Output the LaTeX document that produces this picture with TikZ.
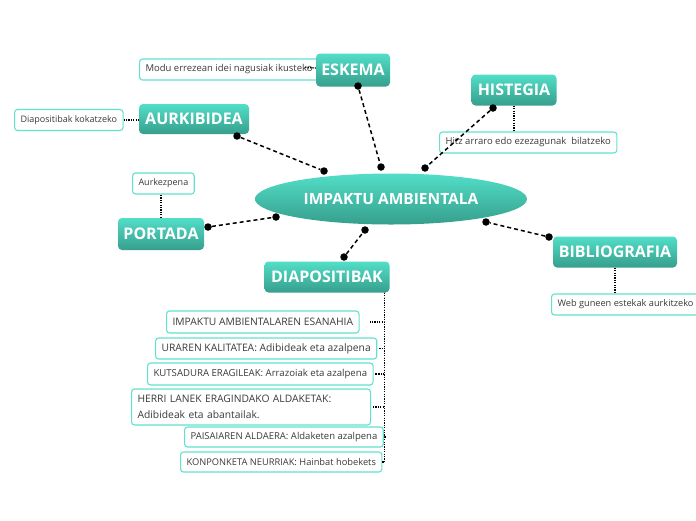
\documentclass[tikz,border=0pt]{standalone}
\usepackage{fontspec}
\setmainfont{Open Sans}
\usetikzlibrary{shapes.geometric}
\definecolor{tealtop}{HTML}{52DEC8}
\definecolor{tealbot}{HTML}{369F8C}
\definecolor{noteline}{HTML}{62E2CE}
\definecolor{notetext}{HTML}{3A3A3A}
\begin{document}
\begin{tikzpicture}[x=1pt,y=-1pt,
	topic/.style={ rounded corners=4pt, top color=tealtop, bottom color=tealbot, text=white, inner sep=0pt, font=\fontsize{16}{19}\selectfont\bfseries },
	hub/.style={ ellipse, top color=tealtop, bottom color=tealbot, text=white, inner sep=0pt, minimum width=272pt, minimum height=51pt, font=\fontsize{15.5}{18}\selectfont\bfseries },
	note/.style={ draw=noteline, line width=1.1pt, fill=white, rounded corners=3pt, text=notetext, anchor=west, inner xsep=6pt, inner ysep=0pt, minimum height=21pt, font=\fontsize{9.5}{11}\selectfont },
	item/.style={ note, align=left },
	dot/.style={ circle, fill=black, inner sep=0pt, minimum size=7.5pt },
	link/.style={ line width=1.5pt, dash pattern=on 4pt off 3pt },
	dotlink/.style={ line width=1.3pt, dash pattern=on 1.2pt off 1.2pt }
]
\useasboundingbox (0,0) rectangle (696,520);

% centre
\node at (391,199) (hub) [hub] {IMPAKTU AMBIENTALA};

% side notes
\node at (139,69.5) (modu) [note] {Modu errezean idei nagusiak ikusteko\hspace{2pt}};
\node at (14,120) (koka) [note, font=\fontsize{9}{11}\selectfont] {Diapositibak kokatzeko};
\node at (439,142.5) (hitz) [note] {Hitz arraro edo ezezagunak \ bilatzeko};
\node at (132,183.5) (aurk) [note, font=\fontsize{9}{11}\selectfont] {Aurkezpena};
\node at (551,304.5) (web) [note, font=\fontsize{9.2}{11}\selectfont] {Web guneen estekak aurkitzeko\hspace{8pt}};

% topics
\node at (353,70) (eskema) [topic, minimum width=74pt, minimum height=33pt] {ESKEMA};
\node at (194,119) (aurki) [topic, minimum width=110pt, minimum height=30pt] {AURKIBIDEA};
\node at (514,90) (histe) [topic, minimum width=85pt, minimum height=31pt] {HISTEGIA};
\node at (161,234) (portada) [topic, minimum width=86pt, minimum height=32pt] {PORTADA};
\node at (615,252) (biblio) [topic, minimum width=124pt, minimum height=31pt] {BIBLIOGRAFIA};
\node at (327,277) (diapo) [topic, minimum width=125pt, minimum height=31pt] {DIAPOSITIBAK};

% slides list
\foreach \n/\x/\y/\f/\h/\t in {
	i1/166/322/10.3/22/{IMPAKTU AMBIENTALAREN ESANAHIA},
	i2/155/348.5/10.3/21/{URAREN KALITATEA: Adibideak eta azalpena},
	i3/147/374/9.6/22/{KUTSADURA ERAGILEAK: Arrazoiak eta azalpena},
	i5/184/437/9.5/20/{PAISAIAREN ALDAERA: Aldaketen azalpena},
	i6/180/462/9.3/20/{KONPONKETA NEURRIAK: Hainbat hobekets}}
	\node at (\x,\y) (\n) [item, minimum height=\h pt, font=\fontsize{\f}{16}\selectfont] {\t};
\node at (131,407) (i4) [item, minimum height=36pt, text width=227pt, font=\fontsize{10.3}{16}\selectfont] {HERRI LANEK ERAGINDAKO ALDAKETAK:\\ Adibideak eta abantailak.};

\coordinate (trunk) at ([xshift=-5pt]diapo.south east);
\foreach \n/\s in {i1/9,i2/1,i3/1,i4/1,i5/1,i6/0}
	\draw[dotlink, shorten >=\s pt] (trunk) |- (\n.east);

% note links
\draw[dotlink] ([xshift=-14pt,yshift=2pt]modu.east) -- ([yshift=2pt]eskema.west);
\draw[dotlink] (koka.east) -- (aurki.west |- koka.east);
\draw[dotlink] (histe.south) -- (histe.south |- hitz.north);
\draw[dotlink] (portada.north) -- (portada.north |- aurk.south);
\draw[dotlink] (biblio.south) -- (biblio.south |- web.north);

% topic links
\node at (358,86) (e1) [dot] {};
\node at (381,167) (e2) [dot] {};
\node at (237,136) (a1) [dot] {};
\node at (324,171) (a2) [dot] {};
\node at (493,108) (h1) [dot] {};
\node at (425,168) (h2) [dot] {};
\node at (208,227) (p1) [dot] {};
\node at (276,217) (p2) [dot] {};
\node at (549,237) (b1) [dot] {};
\node at (486,222) (b2) [dot] {};
\node at (344,257) (d1) [dot] {};
\node at (365,230) (d2) [dot] {};
\foreach \u/\v in {e1/e2,a1/a2,h1/h2,p1/p2,b1/b2,d1/d2}
	\draw[link] (\u) -- (\v);

\end{tikzpicture}
\end{document}
